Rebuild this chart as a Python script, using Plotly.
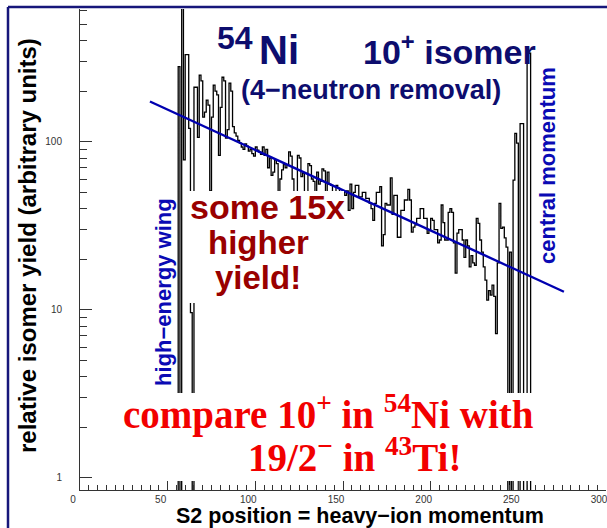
import numpy as np
import plotly.graph_objects as go

# ---- data -------------------------------------------------------------
# isomer yield per S2-position bin (bin width 1, first bin starts at 55)
bin_start = 55
bin_width = 1
yield_counts = [
    0, 280, 0, 650, 78, 330, 330, 120, 9.6, 0,          # 55-64
    211, 211, 106, 249, 230, 140, 150, 177, 165, 51,    # 65-74
    140, 217, 200, 190, 83, 160, 242, 230, 105, 118,    # 75-84
    223, 200, 123, 113, 108, 102, 98, 93, 90, 97,       # 85-94
    94, 88, 90, 85, 82, 93, 89, 87, 84, 93,             # 95-104
    83, 90, 70, 80, 63, 66, 78, 74, 50, 60,             # 105-114
    68, 73, 70, 73, 87, 82, 60, 48, 50, 83,             # 115-124
    80, 62, 65, 48, 50, 74, 72, 60, 58, 47,             # 125-134
    66, 56, 58, 69, 67, 50, 66, 56, 55, 47,             # 135-144
    50, 55, 53, 50, 47, 50, 48, 51, 39, 56,             # 145-154
    40, 50, 55, 55, 47, 47, 50, 50, 46, 46,             # 155-164
    43, 40, 34, 43, 50, 50, 54, 24, 28, 43,             # 165-174
    42, 42, 61, 37, 48, 48, 27, 27, 39, 39,             # 175-184
    45, 45, 52, 45, 29, 31, 32, 35, 35, 40,             # 185-194
    40, 35, 35, 28.5, 30, 35, 34, 30, 30, 25,           # 195-204
    26, 42, 33, 26, 26, 38, 40, 38, 25, 16.5,           # 205-214
    28.6, 30, 30, 26, 20.5, 26, 24, 18, 21, 19,         # 215-224
    18.4, 35, 32.7, 26, 22, 18, 15, 11.4, 13, 12.2,     # 225-234
    14, 12, 7.2, 19, 43, 30.5, 31, 26.8, 23.6, 0,       # 235-244
    22, 0, 59, 112, 98, 0, 128, 128, 0, 0,              # 245-254
    337, 337, 0,                                        # 255-257
]

# exponential fit drawn as a straight line on the log axis
fit_x = [39.9, 276.0]
fit_y = [173.5, 12.8]

x_range = [0, 300]
y_log_range = [-0.073, 2.79]
y_major = [1, 10, 100]
y_minor = [m * d for d in (1, 10, 100) for m in range(2, 10)]

# ---- geometry helpers (pixel -> paper) --------------------------------
W, H = 607, 528
L, R, T, B = 80, 1, 9, 38
PW, PH = W - L - R, H - T - B


def fx(px):
    return (px - L) / PW


def fy(py):
    return (H - B - py) / PH


# ---- histogram outline ------------------------------------------------
counts = np.array(yield_counts, dtype=float)
edges = bin_start + np.arange(len(counts) + 1) * bin_width
floor = 1e-3  # empty bins drop below the visible range
plot_counts = np.where(counts > 0, counts, floor)
hx = np.concatenate([[edges[0]], edges])
hy = np.concatenate([[floor], plot_counts, [floor]])

fig = go.Figure()
fig.add_trace(go.Scatter(
    x=hx, y=hy, mode="lines", line=dict(shape="hv", color="black", width=1.3),
    hoverinfo="skip", showlegend=False,
))
fig.add_trace(go.Scatter(
    x=fit_x, y=fit_y, mode="lines", line=dict(color="#0000b0", width=2.4),
    hoverinfo="skip", showlegend=False,
))

NAVY = "#0d0d6e"
BLUE = "#0a0ab4"
DARKRED = "#990000"
RED = "#f20000"
SANS = "Liberation Sans, Arial, Helvetica, sans-serif"
SERIF = "Liberation Serif, Times New Roman, serif"


def label(text, x, y, size, color, family=SANS, xanchor="center",
          yanchor="bottom", angle=0):
    return dict(text=text, xref="paper", yref="paper", x=fx(x), y=fy(y),
                xanchor=xanchor, yanchor=yanchor, showarrow=False,
                textangle=angle, borderpad=0,
                font=dict(family=family, size=size, color=color,
                          weight="bold"))


annotations = [
    label("54", 235, 57, 32, NAVY),
    label("Ni", 279, 73.5, 40, NAVY),
    label("10<sup>+</sup> isomer", 449, 72, 34, NAVY),
    label("(4\u2212neutron removal)", 371, 106, 27, NAVY),
    label("some 15x", 267, 227, 34, DARKRED),
    label("higher", 258, 262, 33, DARKRED),
    label("yield!", 258, 297, 33, DARKRED),
    label("high\u2212energy wing", 163, 292, 22, BLUE, yanchor="middle", angle=-90),
    label("central momentum", 548, 166, 22, BLUE, yanchor="middle", angle=-90),
    label("compare 10<sup>+</sup> in <sup>54</sup>Ni with", 328, 438, 39, RED,
          family=SERIF),
    label("19/2<sup>\u2212</sup> in <sup>43</sup>Ti!", 354, 480, 39, RED,
          family=SERIF),
    # axis titles
    label("S2 position = heavy\u2212ion momentum", 360, 515.5, 21.5, "black",
          yanchor="middle"),
    label("relative isomer yield (arbitrary units)", 27, 246, 24, "black",
          yanchor="middle", angle=-90),
]

shapes = [
    # white backing behind the text blocks
    dict(type="rect", xref="paper", yref="paper", x0=fx(186), x1=fx(344),
         y0=fy(303), y1=fy(191), fillcolor="white", line=dict(width=0),
         layer="above"),
    dict(type="rect", xref="paper", yref="paper", x0=fx(114), x1=fx(542),
         y0=fy(481), y1=fy(393), fillcolor="white", line=dict(width=0),
         layer="above"),
    # slide frame
    dict(type="line", xref="paper", yref="paper", x0=fx(8), x1=fx(607),
         y0=fy(7), y1=fy(7), line=dict(color="#16167a", width=2.5)),
    dict(type="line", xref="paper", yref="paper", x0=fx(8), x1=fx(8),
         y0=fy(7), y1=fy(528), line=dict(color="#16167a", width=2.5)),
]

fig.update_layout(
    width=W, height=H,
    margin=dict(l=L, r=R, t=T, b=B, pad=0, autoexpand=False),
    paper_bgcolor="white", plot_bgcolor="white",
    annotations=annotations, shapes=shapes,
    xaxis=dict(
        range=x_range, showgrid=False, zeroline=False, automargin=False,
        showline=True, linecolor="#333", linewidth=1,
        ticks="inside", ticklen=10, tickwidth=1, tickcolor="#333",
        tickmode="linear", tick0=0, dtick=50,
        tickfont=dict(family=SANS, size=10, color="#333"),
        ticklabelstandoff=0, ticklabelshift=-7, ticklabeloverflow="allow",
        minor=dict(ticks="inside", ticklen=5, tickwidth=1, tickcolor="#333",
                   dtick=5, showgrid=False),
    ),
    yaxis=dict(
        type="log", range=y_log_range, showgrid=False, zeroline=False,
        automargin=False,
        showline=True, linecolor="#333", linewidth=1,
        ticks="inside", ticklen=12, tickwidth=1, tickcolor="#333",
        tickmode="array", tickvals=y_major, ticktext=[str(v) for v in y_major],
        tickfont=dict(family=SANS, size=10, color="#333"),
        ticklabelstandoff=15,
        minor=dict(ticks="inside", ticklen=7, tickwidth=1, tickcolor="#333",
                   tickmode="array", tickvals=y_minor, showgrid=False),
    ),
)

fig.write_html("out.html")
